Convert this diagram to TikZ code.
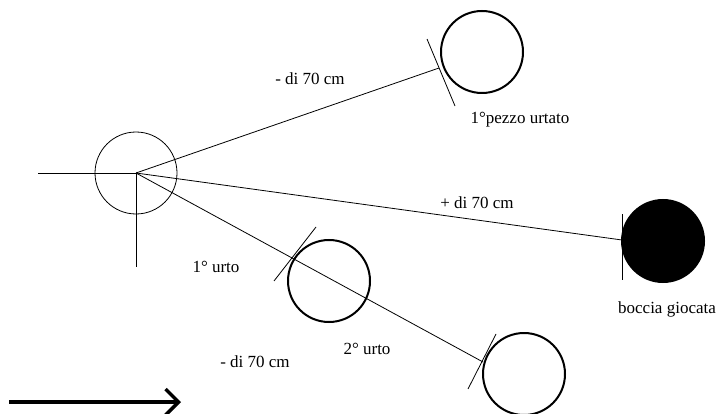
\documentclass[tikz,border=0pt]{standalone}
\usepackage{fontspec}
\setmainfont{Liberation Serif}
\usetikzlibrary{arrows.meta}
\begin{document}
\begin{tikzpicture}[x=1pt,y=-1pt,
  thinline/.style={line width=0.8pt},
  ball/.style={circle,draw,line width=2pt,minimum size=82pt,inner sep=0pt},
  lbl/.style={font=\fontsize{17}{20}\selectfont,anchor=base,inner sep=0pt}]
\useasboundingbox (0,0) rectangle (722,414);
% start ball
\node[circle,draw,line width=0.8pt,minimum size=82pt,inner sep=0pt] (start) at (136,173) {};
\coordinate (O) at (136,173);
\coordinate (Lend) at (38,173);
\coordinate (Dend) at (136,267);
\draw[thinline] (Lend) -- (O) -- (Dend);
% balls
\node[ball] (b1) at (482,52) {};
\node[ball,fill=black] (bg) at (663,241) {};
\node[ball] (b2) at (329,281) {};
\node[ball] (b3) at (524,374) {};
% touch points
\coordinate (T1) at (439,68);
\coordinate (T2) at (622,240);
\coordinate (T3) at (483,362);
\draw[thinline] (O) -- (T1);
\draw[thinline] (O) -- (T2);
\draw[thinline] (O) -- (T3);
% tangent marks
\coordinate (t1a) at (427,39); \coordinate (t1b) at (455,106);
\coordinate (t2a) at (622,214); \coordinate (t2b) at (622,280);
\coordinate (t3a) at (316,227); \coordinate (t3b) at (274,281);
\coordinate (t4a) at (496,334); \coordinate (t4b) at (468,389);
\draw[thinline] (t1a) -- (t1b);
\draw[thinline] (t2a) -- (t2b);
\draw[thinline] (t3a) -- (t3b);
\draw[thinline] (t4a) -- (t4b);
% labels
\node[lbl] (l1) at (310,85) {- di 70 cm};
\node[lbl] (l2) at (520,124) {1°pezzo urtato};
\node[lbl] (l3) at (477,208) {+ di 70 cm};
\node[lbl] (l4) at (216,272) {1° urto};
\node[lbl] (l5) at (255,367) {- di 70 cm};
\node[lbl] (l6) at (367,354) {2° urto};
\node[lbl] (l7) at (667,313) {boccia giocata};
% arrow
\coordinate (A0) at (9,402);
\coordinate (A1) at (181,402);
\draw[line width=3.5pt,-{Straight Barb[length=13pt,width=26pt]}] (A0) -- (A1);
\end{tikzpicture}
\end{document}
